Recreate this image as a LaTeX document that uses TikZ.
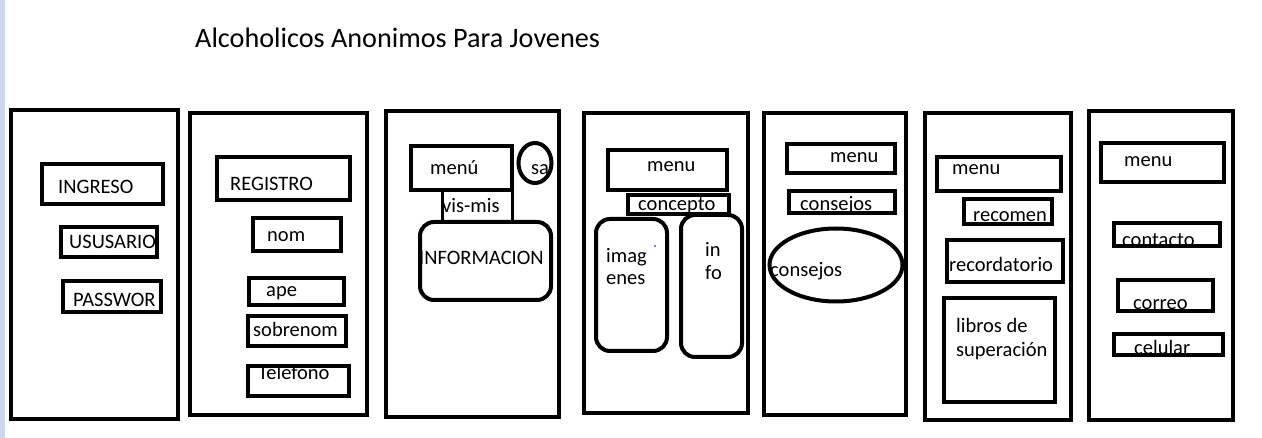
\documentclass[tikz,border=0pt]{standalone}
\usepackage{fontspec}
\setmainfont{Carlito}
\usetikzlibrary{shapes.geometric}
\definecolor{strip}{HTML}{CFD8E8}
\begin{document}
\begin{tikzpicture}[x=1pt,y=-1pt,
  panel/.style={draw=black,line width=4.5pt,rectangle,inner sep=0pt,fill=none},
  box/.style={draw=black,line width=4pt,rectangle,inner sep=0pt},
  rbox/.style={draw=black,line width=4pt,rectangle,rounded corners=14pt,inner sep=0pt},
  oval/.style={draw=black,line width=4pt,ellipse,inner sep=0pt},
  txt/.style={anchor=base west,inner sep=0pt,font=\fontsize{20.5}{24}\selectfont}]
\useasboundingbox (0,0) rectangle (1262,438);
\fill[white] (0,0) rectangle (1262,438);
\fill[strip] (0,0) rectangle (5,438);
\node[txt,font=\fontsize{28.2}{32}\selectfont] (title) at (195,48) {Alcoholicos Anonimos Para Jovenes};
% panel 1
\draw[panel] (11,110) rectangle (178,419);
\node[txt] (t1a) at (58,194) {INGRESO};
\node[txt] (t1b) at (69,249) {USUSARIO};
\node[txt] (t1c) at (73,307) {PASSWOR};
\draw[box] (42,164) rectangle (163,204);
\draw[box] (61,227) rectangle (157,257);
\draw[box] (63,281) rectangle (161,312);
% panel 2
\draw[panel] (190,113) rectangle (367,415);
\node[txt] (t2a) at (230,191) {REGISTRO};
\node[txt] (t2b) at (267,242) {nom};
\node[txt] (t2c) at (266,297) {ape};
\node[txt] (t2d) at (253,337) {sobrenom};
\node[txt] (t2e) at (258,380) {Telefono};
\draw[box] (217,157) rectangle (350,200);
\draw[box] (253,218) rectangle (341,251);
\draw[box] (249,278) rectangle (344,305);
\draw[box] (248,316) rectangle (346,346);
\draw[box] (248,366) rectangle (349,396);
% panel 3
\draw[panel] (386,111) rectangle (559,417);
\node[txt] (t3a) at (430,175) {menú};
\node[txt] (t3b) at (531,175) {sa};
\node[txt] (t3c) at (442,213) {vis-mis};
\node[txt] (t3d) at (419,265) {INFORMACION};
\draw[box] (411,146) rectangle (512,190);
\node[oval,minimum width=33pt,minimum height=40pt] (sa) at (535,163) {};
\draw[draw=black,line width=3pt] (442,192) -- (442,221) (512,192) -- (512,221);
\draw[rbox] (420,222) rectangle (551,300);
% panel 4
\draw[panel] (584,113) rectangle (748,413);
\node[txt] (t4a) at (647,172) {menu};
\node[txt] (t4b) at (638,211) {concepto};
\node[txt] (t4c) at (606,263) {imag};
\node[txt] (t4d) at (606,285) {enes};
\node[txt] (t4e) at (705,257) {in};
\node[txt] (t4f) at (705,280) {fo};
\draw[box] (608,150) rectangle (727,190);
\draw[box] (628,195) rectangle (729,214);
\draw[rbox] (596,219) rectangle (667,351);
\draw[rbox] (681,215) rectangle (742,357);
\fill[blue!80!black] (655,246) circle (0.8);
% panel 5
\draw[panel] (764,113) rectangle (906,415);
\node[txt] (t5a) at (830,163) {menu};
\node[txt] (t5b) at (800,211) {consejos};
\node[txt] (t5c) at (770,277) {consejos};
\draw[box] (787,144) rectangle (895,173);
\draw[box] (789,191) rectangle (895,213);
\node[oval,minimum width=133pt,minimum height=73pt] (ov) at (836,265) {};
% panel 6
\draw[panel] (925,113) rectangle (1071,420);
\node[txt] (t6a) at (952,175) {menu};
\node[txt] (t6b) at (973,222) {recomen};
\node[txt] (t6c) at (949,272) {recordatorio};
\node[txt] (t6d) at (956,333) {libros de};
\node[txt] (t6e) at (956,357) {superación};
\draw[box] (937,157) rectangle (1061,191);
\draw[box] (964,199) rectangle (1052,224);
\draw[box] (947,240) rectangle (1063,282);
\draw[box] (944,298) rectangle (1055,402);
% panel 7
\draw[panel] (1089,111) rectangle (1233,420);
\node[txt] (t7a) at (1124,167) {menu};
\node[txt] (t7b) at (1122,247) {contacto};
\node[txt] (t7c) at (1133,310) {correo};
\node[txt] (t7d) at (1134,355) {celular};
\draw[box] (1101,143) rectangle (1224,182);
\draw[box] (1114,223) rectangle (1220,246);
\draw[box] (1118,280) rectangle (1213,311);
\draw[box] (1114,334) rectangle (1223,355);
\end{tikzpicture}
\end{document}
